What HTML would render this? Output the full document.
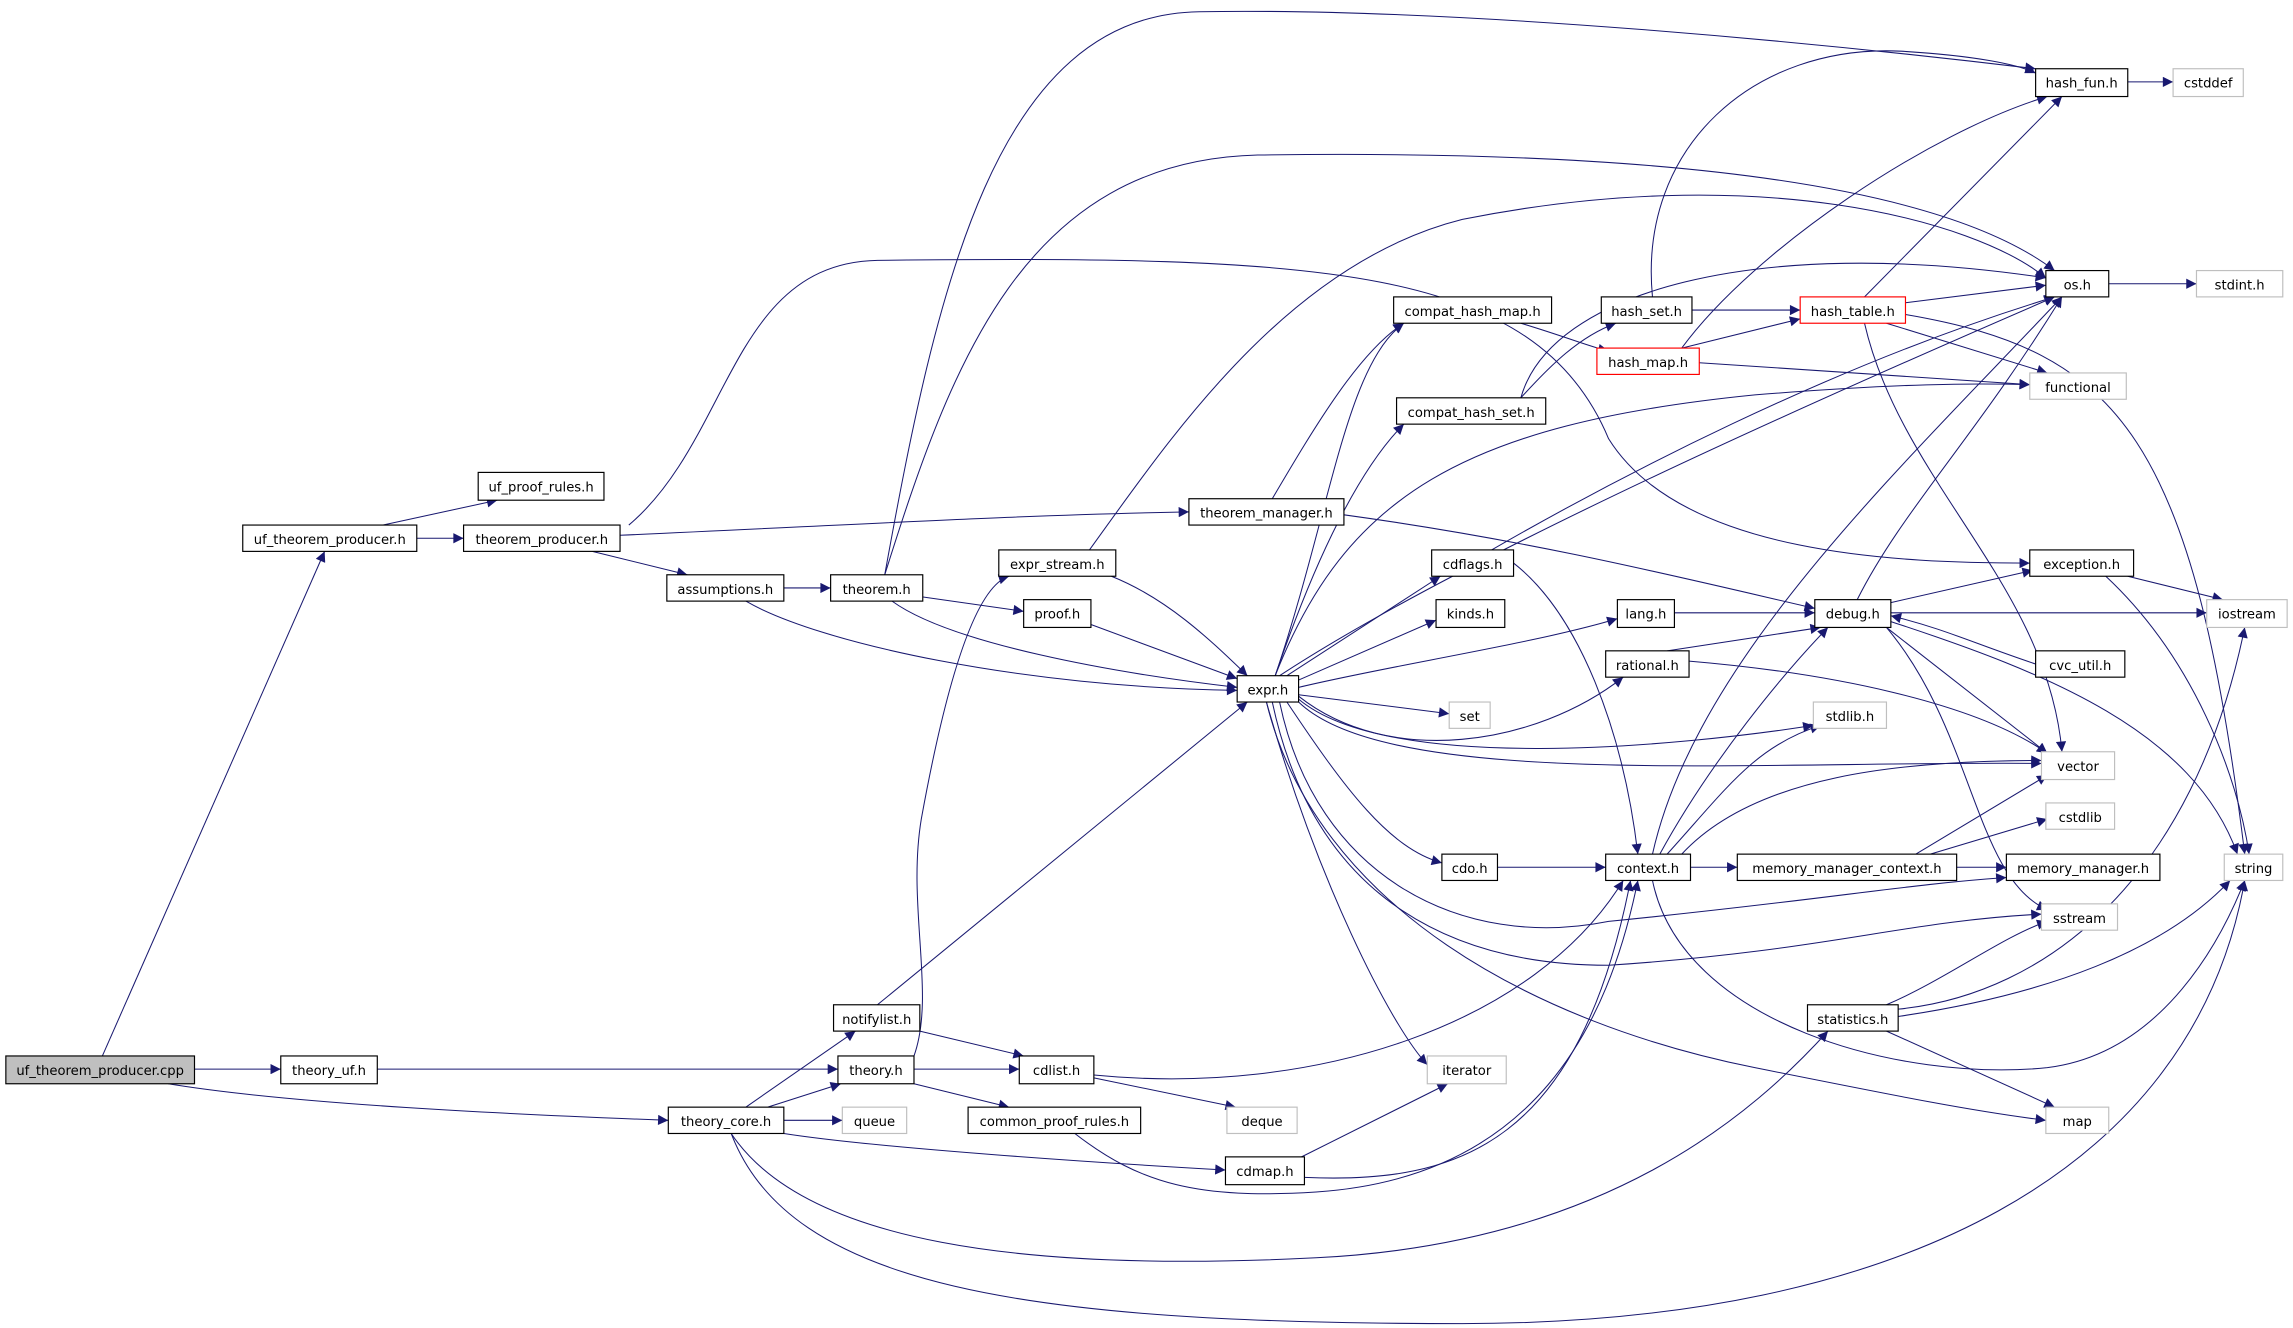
<!DOCTYPE html>
<html><head><meta charset="utf-8"><style>
html,body{margin:0;padding:0;background:#fff;}
svg{display:block;}
text{font-family:"DejaVu Sans","Liberation Sans",sans-serif;font-size:9px;fill:#000;text-anchor:middle;}
.e{fill:none;stroke:#191970;stroke-width:0.7;}
</style></head><body>
<svg width="2293" height="1328" viewBox="0 0 1568 908" preserveAspectRatio="none" xmlns="http://www.w3.org/2000/svg">
<defs><marker id="a" viewBox="0 0 10 10" refX="10" refY="5" markerWidth="9" markerHeight="7" markerUnits="userSpaceOnUse" orient="auto"><path d="M0,0 L10,5 L0,10 z" fill="#191970"/></marker></defs>
<g class="e" marker-end="url(#a)">
<path d="M70,722 L222,377"/>
<path d="M133,731 L192,731"/>
<path d="M115,741 C200,755 350,762 457,766"/>
<path d="M262,359 L340,342"/>
<path d="M285,368 L317,368"/>
<path d="M405,377 L470,393"/>
<path d="M424,366 C600,358 700,352 813,350"/>
<path d="M430,359 C500,300 500,180 600,178 C900,175 1050,180 1100,300 C1150,380 1300,385 1388,385"/>
<path d="M536,402 L568,402"/>
<path d="M510,411 C560,440 700,470 846,472"/>
<path d="M605,393 C640,200 680,10 820,8 C1000,5 1250,30 1392,47"/>
<path d="M605,393 C650,250 700,110 860,106 C1000,104 1300,105 1405,185"/>
<path d="M630,408 L700,418"/>
<path d="M610,411 C650,440 760,460 846,470"/>
<path d="M760,394 C800,410 830,440 853,462"/>
<path d="M745,376 C800,300 880,180 1000,150 C1200,110 1350,150 1399,190"/>
<path d="M746,427 L846,464"/>
<path d="M870,341 C900,290 930,240 960,221"/>
<path d="M919,352 C1050,370 1150,395 1241,416"/>
<path d="M872,462 C910,350 920,250 960,221"/>
<path d="M872,462 C900,380 930,320 960,290"/>
<path d="M880,462 L985,394"/>
<path d="M888,465 L982,424"/>
<path d="M888,470 C950,455 1050,440 1106,423"/>
<path d="M888,476 C950,525 1050,510 1110,463"/>
<path d="M888,475 L991,488"/>
<path d="M888,478 C950,530 1150,510 1240,496"/>
<path d="M888,480 C950,540 1200,520 1396,522"/>
<path d="M880,480 C920,540 950,580 986,590"/>
<path d="M875,480 C900,600 1000,650 1100,630 C1250,615 1300,605 1372,600"/>
<path d="M870,480 C900,620 1000,660 1100,660 C1250,650 1300,630 1396,625"/>
<path d="M866,480 C900,600 950,700 976,728"/>
<path d="M866,480 C900,620 1050,700 1200,730 C1300,750 1350,760 1399,766"/>
<path d="M872,462 C920,340 1000,290 1200,270 C1300,262 1350,262 1388,263"/>
<path d="M875,462 C1000,380 1250,270 1405,203"/>
<path d="M1040,221 C1070,230 1090,238 1100,240"/>
<path d="M1040,272 C1060,250 1080,230 1105,221"/>
<path d="M1040,272 C1060,200 1200,160 1399,190"/>
<path d="M1157,212 L1231,212"/>
<path d="M1130,203 C1120,100 1200,30 1300,35 C1350,38 1380,44 1392,50"/>
<path d="M1150,238 L1231,218"/>
<path d="M1150,238 C1200,170 1320,90 1400,66"/>
<path d="M1162,248 L1388,263"/>
<path d="M1275,203 L1410,66"/>
<path d="M1303,207 L1399,195"/>
<path d="M1290,221 L1400,255"/>
<path d="M1275,221 C1300,330 1400,400 1410,514"/>
<path d="M1303,215 C1450,240 1500,300 1535,584"/>
<path d="M1455,56 L1486,56"/>
<path d="M1442,194 L1502,194"/>
<path d="M1455,394 L1520,410"/>
<path d="M1440,394 C1500,450 1530,530 1538,584"/>
<path d="M1293,412 L1390,390"/>
<path d="M1293,419 L1509,419"/>
<path d="M1270,410 C1300,350 1350,300 1410,203"/>
<path d="M1290,429 L1400,515"/>
<path d="M1290,429 C1350,500 1350,600 1400,622"/>
<path d="M1293,425 C1400,460 1500,500 1530,584"/>
<path d="M1392,454 C1350,440 1330,430 1293,421"/>
<path d="M1145,419 L1241,419"/>
<path d="M1140,445 L1245,429"/>
<path d="M1155,452 C1250,460 1350,480 1400,515"/>
<path d="M1035,385 C1080,420 1110,500 1120,584"/>
<path d="M1020,376 C1100,330 1250,250 1405,203"/>
<path d="M1024,593 L1098,593"/>
<path d="M1130,584 C1160,450 1300,320 1410,203"/>
<path d="M1135,584 C1170,520 1220,460 1250,429"/>
<path d="M1140,584 C1180,540 1200,510 1245,496"/>
<path d="M1150,584 C1200,530 1300,520 1396,520"/>
<path d="M1156,593 L1188,593"/>
<path d="M1130,602 C1150,700 1300,740 1400,730 C1480,720 1520,640 1535,602"/>
<path d="M1310,584 L1400,530"/>
<path d="M1320,584 L1400,560"/>
<path d="M1338,593 L1372,593"/>
<path d="M1290,687 C1330,670 1370,640 1400,630"/>
<path d="M1298,690 C1400,680 1500,600 1535,429"/>
<path d="M1298,695 C1400,680 1480,650 1525,602"/>
<path d="M1290,705 L1405,757"/>
<path d="M600,687 L853,480"/>
<path d="M629,705 L700,722"/>
<path d="M258,731 L573,731"/>
<path d="M625,722 C640,680 620,620 630,560 C650,450 670,400 690,394"/>
<path d="M625,731 L697,731"/>
<path d="M625,741 L690,757"/>
<path d="M510,757 L585,705"/>
<path d="M525,757 L575,741"/>
<path d="M536,766 L576,766"/>
<path d="M536,775 C600,785 750,795 838,800"/>
<path d="M500,775 C550,850 700,870 900,860 C1100,850 1200,760 1250,705"/>
<path d="M500,775 C540,880 700,905 1000,905 C1300,905 1500,800 1535,602"/>
<path d="M748,737 L845,757"/>
<path d="M748,735 C900,750 1050,700 1110,602"/>
<path d="M735,775 C780,810 820,820 900,815 C1050,805 1100,700 1120,602"/>
<path d="M890,791 L990,741"/>
<path d="M892,805 C1000,810 1080,780 1115,602"/>
</g>
<g stroke-width="0.8">
<rect x="4" y="722" width="129" height="19" fill="#bfbfbf" stroke="#000"/><text x="68.5" y="735">uf_theorem_producer.cpp</text>
<g fill="#fff" stroke="#000">
<rect x="192" y="722" width="66" height="19"/>
<rect x="166" y="359" width="119" height="18"/>
<rect x="327" y="323" width="86" height="19"/>
<rect x="317" y="359" width="107" height="18"/>
<rect x="456" y="393" width="80" height="18"/>
<rect x="568" y="393" width="63" height="18"/>
<rect x="813" y="341" width="106" height="18"/>
<rect x="683" y="376" width="80" height="18"/>
<rect x="700" y="410" width="46" height="19"/>
<rect x="846" y="462" width="42" height="18"/>
<rect x="953" y="203" width="108" height="18"/>
<rect x="955" y="272" width="102" height="18"/>
<rect x="979" y="376" width="56" height="18"/>
<rect x="982" y="410" width="47" height="19"/>
<rect x="986" y="584" width="38" height="18"/>
<rect x="1106" y="410" width="39" height="19"/>
<rect x="1098" y="445" width="57" height="18"/>
<rect x="1095" y="203" width="62" height="18"/>
<rect x="1392" y="47" width="63" height="19"/>
<rect x="1399" y="185" width="43" height="18"/>
<rect x="1388" y="376" width="71" height="18"/>
<rect x="1241" y="410" width="52" height="19"/>
<rect x="1392" y="445" width="61" height="18"/>
<rect x="1098" y="584" width="58" height="18"/>
<rect x="1188" y="584" width="150" height="18"/>
<rect x="1372" y="584" width="105" height="18"/>
<rect x="1236" y="687" width="62" height="18"/>
<rect x="570" y="687" width="59" height="18"/>
<rect x="573" y="722" width="52" height="19"/>
<rect x="697" y="722" width="51" height="19"/>
<rect x="457" y="757" width="79" height="18"/>
<rect x="662" y="757" width="118" height="18"/>
<rect x="838" y="791" width="54" height="19"/>
</g>
<g fill="#fff" stroke="#ff0000">
<rect x="1092" y="238" width="70" height="18"/>
<rect x="1231" y="203" width="72" height="18"/>
</g>
<g fill="#fff" stroke="#bfbfbf">
<rect x="991" y="480" width="28" height="18"/>
<rect x="1486" y="47" width="48" height="19"/>
<rect x="1502" y="185" width="59" height="18"/>
<rect x="1388" y="255" width="66" height="18"/>
<rect x="1509" y="410" width="55" height="19"/>
<rect x="1240" y="480" width="50" height="18"/>
<rect x="1396" y="514" width="50" height="19"/>
<rect x="1399" y="549" width="47" height="18"/>
<rect x="1521" y="584" width="40" height="18"/>
<rect x="1396" y="618" width="52" height="18"/>
<rect x="976" y="722" width="54" height="19"/>
<rect x="1399" y="757" width="43" height="18"/>
<rect x="576" y="757" width="44" height="18"/>
<rect x="839" y="757" width="48" height="18"/>
</g>
</g>
<g>
<text x="225" y="735">theory_uf.h</text>
<text x="225.5" y="372">uf_theorem_producer.h</text>
<text x="370" y="336">uf_proof_rules.h</text>
<text x="370.5" y="372">theorem_producer.h</text>
<text x="496" y="406">assumptions.h</text>
<text x="599.5" y="406">theorem.h</text>
<text x="866" y="354">theorem_manager.h</text>
<text x="723" y="389">expr_stream.h</text>
<text x="723" y="423">proof.h</text>
<text x="867" y="475">expr.h</text>
<text x="1007" y="216">compat_hash_map.h</text>
<text x="1006" y="285">compat_hash_set.h</text>
<text x="1007" y="389">cdflags.h</text>
<text x="1005.5" y="423">kinds.h</text>
<text x="1005" y="493">set</text>
<text x="1005" y="597">cdo.h</text>
<text x="1125.5" y="423">lang.h</text>
<text x="1126.5" y="458">rational.h</text>
<text x="1126" y="216">hash_set.h</text>
<text x="1127" y="251">hash_map.h</text>
<text x="1267" y="216">hash_table.h</text>
<text x="1423.5" y="60">hash_fun.h</text>
<text x="1510" y="60">cstddef</text>
<text x="1420.5" y="198">os.h</text>
<text x="1531.5" y="198">stdint.h</text>
<text x="1421" y="268">functional</text>
<text x="1423.5" y="389">exception.h</text>
<text x="1267" y="423">debug.h</text>
<text x="1536.5" y="423">iostream</text>
<text x="1422.5" y="458">cvc_util.h</text>
<text x="1265" y="493">stdlib.h</text>
<text x="1421" y="527">vector</text>
<text x="1422.5" y="562">cstdlib</text>
<text x="1127" y="597">context.h</text>
<text x="1263" y="597">memory_manager_context.h</text>
<text x="1424.5" y="597">memory_manager.h</text>
<text x="1541" y="597">string</text>
<text x="1422" y="631">sstream</text>
<text x="1267" y="700">statistics.h</text>
<text x="1003" y="735">iterator</text>
<text x="1420.5" y="770">map</text>
<text x="599.5" y="700">notifylist.h</text>
<text x="599" y="735">theory.h</text>
<text x="722.5" y="735">cdlist.h</text>
<text x="496.5" y="770">theory_core.h</text>
<text x="598" y="770">queue</text>
<text x="721" y="770">common_proof_rules.h</text>
<text x="863" y="770">deque</text>
<text x="865" y="804">cdmap.h</text>
</g>
</svg>
</body></html>
